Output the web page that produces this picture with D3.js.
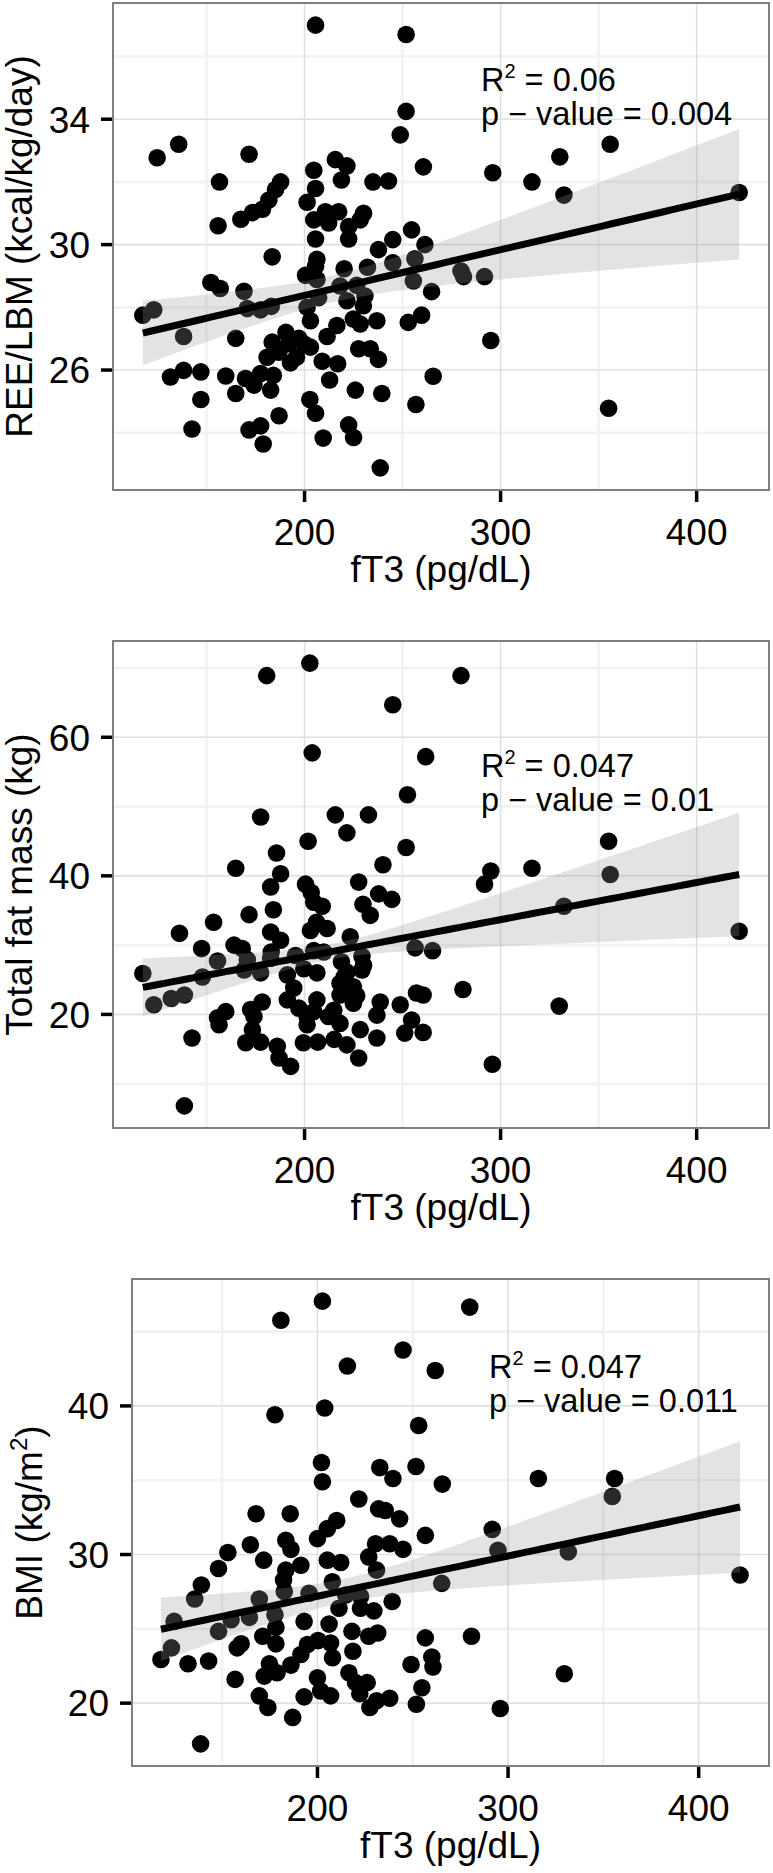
<!DOCTYPE html>
<html><head><meta charset="utf-8">
<script src="https://cdn.jsdelivr.net/npm/d3@7/dist/d3.min.js"></script>
<style>body{margin:0;background:#fff}</style>
</head><body>
<svg id="chart" width="773" height="1873"></svg>
<script>
// ---------- data ----------
const reeData = [[205.6,37.0],[251.8,36.7],[251.8,34.25],[248.8,33.5],[135.8,33.2],[124.8,32.77],[171.7,32.88],[260.6,32.48],[215.7,32.71],[221.6,32.51],[204.7,32.37],[218.8,32.06],[234.9,32.0],[242.8,32.03],[156.6,32.0],[187.8,32.0],[185.2,31.76],[205.6,31.79],[181.8,31.42],[178.5,31.13],[173.4,31.02],[167.5,30.81],[201.3,31.35],[210.6,31.05],[217.4,31.05],[230.1,31.0],[204.7,30.79],[212.3,30.69],[222.5,30.58],[228.4,30.79],[222.5,30.18],[205.6,30.18],[155.9,30.6],[254.6,30.47],[245.0,30.16],[237.7,29.84],[261.4,30.0],[183.5,29.61],[206.3,29.53],[205.6,29.31],[245.0,29.42],[256.3,29.55],[220.2,29.23],[232.1,29.28],[200.5,29.02],[206.3,28.89],[255.5,28.84],[152.2,28.79],[157.0,28.6],[169.1,28.51],[264.8,28.5],[218.1,28.68],[226.6,28.7],[207.2,28.31],[221.6,28.21],[230.8,28.36],[230.0,28.05],[170.8,27.96],[177.6,27.92],[183.0,28.03],[123.1,27.92],[117.5,27.75],[201.3,28.0],[259.7,27.75],[252.9,27.52],[236.9,27.57],[224.9,27.63],[228.4,27.47],[203.0,27.57],[216.5,27.42],[190.5,27.2],[138.3,27.07],[164.9,27.01],[211.5,27.07],[197.1,27.01],[192.0,26.84],[203.0,26.73],[199.6,26.84],[183.5,26.89],[227.6,26.68],[233.5,26.68],[237.7,26.34],[180.9,26.41],[186.9,26.57],[192.8,26.23],[195.9,26.41],[209.0,26.28],[216.9,26.2],[131.6,25.78],[138.3,25.99],[147.1,25.94],[159.8,25.81],[169.9,25.73],[174.2,25.52],[177.6,25.89],[184.1,25.83],[182.7,25.36],[164.9,25.25],[212.8,25.68],[265.6,25.8],[225.9,25.36],[239.4,25.25],[147.1,25.06],[202.7,25.06],[205.6,24.62],[256.8,24.9],[187.0,24.54],[142.6,24.12],[171.7,24.09],[177.6,24.22],[222.5,24.25],[225.0,23.85],[209.5,23.83],[178.9,23.64],[238.6,22.88],
  [355.9,33.2],[330.2,32.8],[296.0,32.29],[316.0,32.0],[332.3,31.58],[421.7,31.66],[279.8,29.16],[281.1,28.98],[291.8,28.98],[295.0,26.94],[355.1,24.78]];

const fatData = [[202.7,70.7],[180.7,68.9],[245.0,64.7],[203.9,57.75],[261.8,57.2],[252.5,51.7],[177.6,48.5],[215.7,48.8],[232.6,48.8],[221.6,46.2],[201.8,45.0],[251.8,44.1],[185.7,43.3],[164.9,41.1],[240.0,41.6],[187.8,40.3],[200.5,38.8],[227.6,39.1],[203.4,37.6],[182.7,38.4],[237.8,37.4],[244.5,36.6],[209.0,35.6],[184.1,35.1],[229.8,35.9],[233.5,34.3],[204.7,36.2],[171.7,34.4],[153.6,33.3],[136.2,31.7],[182.7,31.9],[187.8,30.7],[203.0,32.1],[211.5,32.4],[223.3,31.2],[206.1,33.3],[147.5,29.5],[164.0,30.0],[168.2,29.5],[183.0,29.0],[195.4,28.5],[204.7,29.2],[209.8,29.0],[229.3,28.4],[256.4,29.6],[265.3,29.2],[155.6,27.7],[170.8,27.9],[182.7,28.1],[218.8,27.6],[117.5,25.9],[147.9,25.4],[169.2,26.4],[177.6,26.0],[191.2,25.7],[199.6,26.6],[206.3,26.0],[221.6,26.1],[229.3,26.4],[218.1,24.5],[224.9,24.0],[194.5,23.8],[123.1,21.4],[132.0,22.3],[138.7,22.8],[191.2,22.1],[206.3,22.1],[218.1,22.8],[226.6,22.7],[257.1,23.1],[260.5,22.8],[238.6,21.8],[248.8,21.4],[159.8,20.4],[155.6,19.5],[172.5,20.7],[178.4,21.8],[174.2,19.7],[197.1,20.9],[201.3,19.7],[214.9,20.6],[224.9,21.6],[212.2,19.7],[236.9,19.9],[218.1,18.7],[156.4,18.5],[201.3,18.5],[254.6,19.2],[228.4,17.8],[251.1,17.3],[260.5,17.4],[142.6,16.6],[170.0,15.9],[177.6,16.0],[199.4,15.9],[206.7,16.0],[215.1,16.4],[186.1,15.4],[221.6,15.6],[236.9,16.6],[187.0,13.7],[227.6,13.7],[192.9,12.5],[138.7,6.8],[173.4,17.8],[204.7,20.4],[220.2,25.4],[230.1,27.1],
  [279.8,68.9],[355.1,45.0],[295.0,40.7],[291.8,38.8],[316.0,41.1],[355.9,40.2],[332.3,35.6],[421.7,32.0],[280.8,23.6],[329.9,21.2],[295.8,12.8]];

const bmiData = [[202.6,47.05],[180.8,45.76],[244.9,43.76],[215.7,42.69],[261.8,42.38],[203.8,39.86],[177.7,39.41],[253.1,38.68],[202.1,36.19],[202.6,34.9],[232.7,35.85],[239.6,35.12],[251.7,35.92],[265.5,34.74],[221.7,33.74],[232.1,33.07],[235.6,32.96],[243.1,32.4],[210.1,32.29],[205.2,31.74],[200.0,31.07],[167.8,32.74],[185.7,32.74],[256.6,31.29],[230.5,30.73],[237.9,30.73],[244.9,30.35],[164.8,30.66],[153.0,30.13],[183.4,30.96],[186.1,30.35],[171.8,29.62],[191.3,29.28],[205.2,29.62],[212.2,29.46],[226.9,29.84],[148.1,29.06],[183.4,28.95],[231.0,28.95],[207.8,28.17],[265.2,28.06],[182.2,28.28],[139.1,27.95],[135.6,27.01],[169.5,27.01],[182.6,27.51],[195.6,27.39],[214.8,27.28],[222.6,27.17],[239.2,26.84],[124.8,25.5],[154.7,25.61],[164.3,25.77],[177.7,25.95],[193.0,25.5],[206.1,25.32],[211.3,26.39],[222.6,26.39],[229.6,26.21],[148.1,24.83],[178.2,25.1],[171.3,24.5],[123.4,23.72],[117.9,22.94],[132.1,22.65],[142.9,22.83],[157.9,23.72],[160.0,23.99],[178.2,23.99],[194.8,23.94],[200.3,24.21],[206.9,24.05],[191.3,23.27],[207.9,23.05],[218.1,24.83],[226.9,24.5],[218.6,23.49],[231.6,24.72],[256.6,24.39],[260.0,23.1],[260.6,22.43],[249.1,22.6],[174.8,22.65],[186.1,22.56],[172.1,21.82],[178.8,22.05],[156.8,21.6],[200.0,21.71],[216.5,22.05],[220.0,21.38],[226.1,21.38],[201.7,20.82],[206.9,20.49],[193.0,20.42],[169.5,20.49],[222.2,20.64],[231.0,20.16],[237.9,20.33],[251.9,19.93],[254.8,21.04],[174.0,19.71],[187.0,19.04],[227.5,19.71],[138.7,17.26],
  [279.9,46.65],[315.9,35.12],[355.9,35.12],[354.7,33.91],[291.7,31.69],[294.7,30.29],[331.6,30.18],[421.7,28.62],[280.8,24.5],[329.5,21.98],[295.9,19.64]];

// fitted value of the regression line at the lowest and highest fT3, and the
// 95% CI half-width at those two ends
const reeFit = [27.18, 31.61], reeCI = [1.03, 2.08];
const fatFit = [23.9, 40.2],  fatCI = [4.18, 8.9];
const bmiFit = [24.97, 33.2], bmiCI = [2.14, 4.42];

const xTicks = [200, 300, 400];
const xMinor = [150, 250, 350];
const reeTicks = [26, 30, 34], reeMinor = [24, 28, 32, 36];
const fatTicks = [20, 40, 60], fatMinor = [10, 30, 50, 70];
const bmiTicks = [20, 30, 40], bmiMinor = [25, 35, 45];
const r2Labels = ["0.06", "0.047", "0.047"];
const pLabels = ["0.004", "0.01", "0.011"];
const xTitle = "fT3 (pg/dL)";

// ---------- layout ----------
const FONT = "'Liberation Sans', Arial, Helvetica, sans-serif";
const TICK_FS = 37, TITLE_FS = 37, ANNO_FS = 32.5;
const panels = [
  {data: reeData, fit: reeFit, ci: reeCI, yTicks: reeTicks, yMinor: reeMinor, title: ["REE/LBM (kcal/kg/day)"],
   box: {l:113, r:769, t:3, b:490}, titleX: 32, annoX: 290, annoY: 34.9, r2: r2Labels[0], p: pLabels[0]},
  {data: fatData, fit: fatFit, ci: fatCI, yTicks: fatTicks, yMinor: fatMinor, title: ["Total fat mass (kg)"],
   box: {l:113, r:769, t:641, b:1128}, titleX: 32, annoX: 290, annoY: 54.3, r2: r2Labels[1], p: pLabels[1]},
  {data: bmiData, fit: bmiFit, ci: bmiCI, yTicks: bmiTicks, yMinor: bmiMinor, title: ["BMI (kg/m", "2", ")"],
   box: {l:132, r:769, t:1279, b:1766}, titleX: 42, annoX: 290, annoY: 41.85, r2: r2Labels[2], p: pLabels[2]}
];

const svg = d3.select("#chart");
function expand(ext){ const d = ext[1]-ext[0]; return [ext[0]-0.05*d, ext[1]+0.05*d]; }

panels.forEach(p => {
  const {l, r, t, b} = p.box;
  const x = d3.scaleLinear().domain(expand(d3.extent(p.data, d=>d[0]))).range([l, r]);
  const y = d3.scaleLinear().domain(expand(d3.extent(p.data, d=>d[1]))).range([b, t]);
  const g = svg.append("g");

  // grid
  g.selectAll(null).data(p.yMinor).join("line")
    .attr("x1", l).attr("x2", r).attr("y1", d=>y(d)).attr("y2", d=>y(d))
    .attr("stroke", "#f2f2f2").attr("stroke-width", 2.6);
  g.selectAll(null).data(xMinor).join("line")
    .attr("y1", t).attr("y2", b).attr("x1", d=>x(d)).attr("x2", d=>x(d))
    .attr("stroke", "#f2f2f2").attr("stroke-width", 2.6);
  g.selectAll(null).data(p.yTicks).join("line")
    .attr("x1", l).attr("x2", r).attr("y1", d=>y(d)).attr("y2", d=>y(d))
    .attr("stroke", "#e0e0e0").attr("stroke-width", 1.6);
  g.selectAll(null).data(xTicks).join("line")
    .attr("y1", t).attr("y2", b).attr("x1", d=>x(d)).attr("x2", d=>x(d))
    .attr("stroke", "#e0e0e0").attr("stroke-width", 1.6);

  // points
  g.selectAll(null).data(p.data).join("circle")
    .attr("cx", d=>x(d[0])).attr("cy", d=>y(d[1])).attr("r", 8.8).attr("fill", "#000");

  // regression line + confidence band (standard lm band shape, centred on mean fT3)
  const xr = d3.extent(p.data, d=>d[0]);
  const mx = d3.mean(p.data, d=>d[0]);
  const slope = (p.fit[1]-p.fit[0])/(xr[1]-xr[0]);
  const dL = xr[0]-mx, dR = xr[1]-mx;
  const B = (p.ci[1]**2 - p.ci[0]**2)/(dR*dR - dL*dL);
  const A = p.ci[0]**2 - B*dL*dL;
  const xs = d3.range(80).map(i => xr[0] + (xr[1]-xr[0])*i/79);
  const band = xs.map(xv => {
    const fit = p.fit[0] + slope*(xv - xr[0]);
    const h = Math.sqrt(Math.max(0, A + B*(xv-mx)**2));
    return [xv, fit - h, fit + h, fit];
  });
  g.append("path").datum(band)
    .attr("d", d3.area().x(d=>x(d[0])).y0(d=>y(d[1])).y1(d=>y(d[2])))
    .attr("fill", "#999999").attr("fill-opacity", 0.27);
  g.append("path").datum(band)
    .attr("d", d3.line().x(d=>x(d[0])).y(d=>y(d[3])))
    .attr("fill", "none").attr("stroke", "#000").attr("stroke-width", 7);

  // border
  g.append("rect").attr("x", l).attr("y", t).attr("width", r-l).attr("height", b-t)
    .attr("fill", "none").attr("stroke", "#737373").attr("stroke-width", 1.8);

  // ticks
  g.selectAll(null).data(xTicks).join("line")
    .attr("x1", d=>x(d)).attr("x2", d=>x(d)).attr("y1", b+1).attr("y2", b+12)
    .attr("stroke", "#000").attr("stroke-width", 3.5);
  g.selectAll(null).data(p.yTicks).join("line")
    .attr("y1", d=>y(d)).attr("y2", d=>y(d)).attr("x1", l-12).attr("x2", l-1)
    .attr("stroke", "#000").attr("stroke-width", 3.5);

  // tick labels
  g.selectAll(null).data(xTicks).join("text")
    .attr("x", d=>x(d)).attr("y", b+55).attr("text-anchor", "middle")
    .attr("font-family", FONT).attr("font-size", TICK_FS).attr("fill", "#000").text(d=>d);
  g.selectAll(null).data(p.yTicks).join("text")
    .attr("x", l-23).attr("y", d=>y(d)).attr("dy", "0.36em").attr("text-anchor", "end")
    .attr("font-family", FONT).attr("font-size", TICK_FS).attr("fill", "#000").text(d=>d);

  // axis titles
  g.append("text").attr("x", (l+r)/2).attr("y", b+92).attr("text-anchor", "middle")
    .attr("font-family", FONT).attr("font-size", TITLE_FS).attr("fill", "#000").text(xTitle);
  const yt = g.append("text")
    .attr("transform", `translate(${p.titleX},${(t+b)/2}) rotate(-90)`)
    .attr("text-anchor", "middle").attr("font-family", FONT).attr("font-size", TITLE_FS).attr("fill", "#000");
  yt.append("tspan").text(p.title[0]);
  if (p.title.length > 1) {
    yt.append("tspan").attr("font-size", 24).attr("dy", -15).text(p.title[1]);
    yt.append("tspan").attr("font-size", TITLE_FS).attr("dy", 15).text(p.title[2]);
  }

  // annotation
  const ax = x(p.annoX), ay = y(p.annoY);
  const a1 = g.append("text").attr("x", ax).attr("y", ay)
    .attr("font-family", FONT).attr("font-size", ANNO_FS).attr("fill", "#000");
  a1.append("tspan").text("R");
  a1.append("tspan").attr("font-size", 20).attr("dy", -13).text("2");
  a1.append("tspan").attr("dy", 13).text(" = " + p.r2);
  g.append("text").attr("x", ax).attr("y", ay + 34)
    .attr("font-family", FONT).attr("font-size", ANNO_FS).attr("fill", "#000")
    .text("p \u2212 value = " + p.p);
});
</script>
</body></html>
